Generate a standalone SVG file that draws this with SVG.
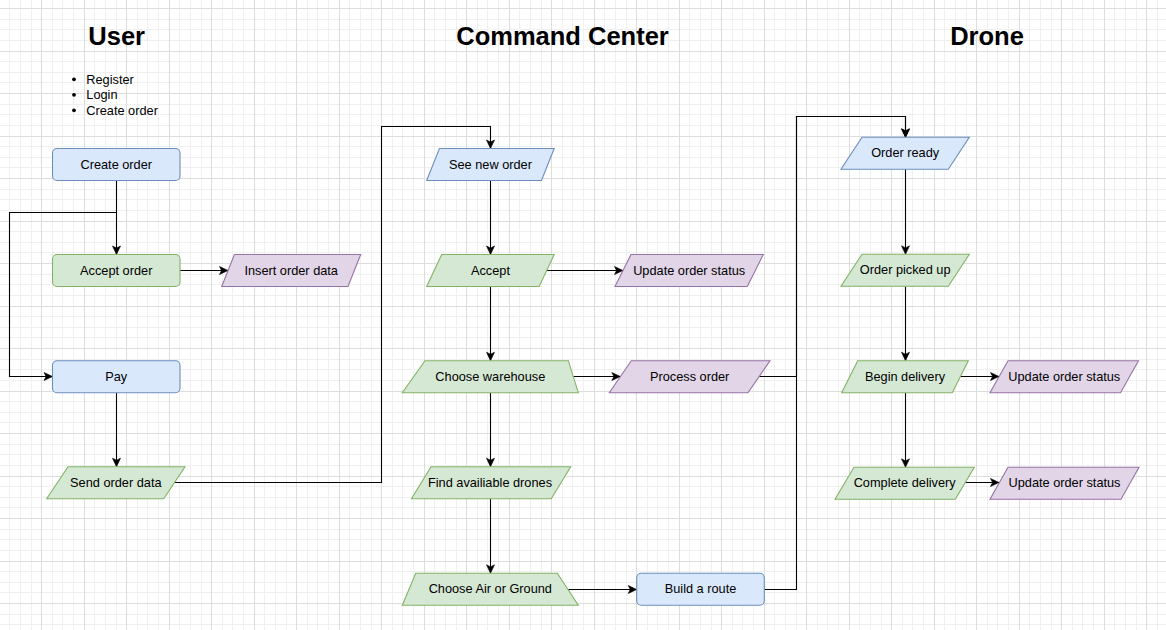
<svg xmlns="http://www.w3.org/2000/svg" width="1166" height="630" viewBox="0 0 1166 630">
<style>
.blue{fill:#dae8fc;stroke:#6c8ebf;stroke-width:1.1}
.green{fill:#d5e8d4;stroke:#82b366;stroke-width:1.1}
.purple{fill:#e1d5e7;stroke:#9673a6;stroke-width:1.1}
.lbl{font-family:"Liberation Sans",Arial,sans-serif;font-size:12.75px;fill:#000;text-anchor:middle}
.title{font-family:"Liberation Sans",Arial,sans-serif;font-size:25.5px;font-weight:bold;fill:#000;text-anchor:middle}
.bul{font-family:"Liberation Sans",Arial,sans-serif;font-size:12.75px;fill:#000}
.edge{fill:none;stroke:#000;stroke-width:1.1;marker-end:url(#arr)}
</style>
<defs>
<pattern id="grid" patternUnits="userSpaceOnUse" x="41" y="8" width="85" height="85">
<path d="M11.5,0V85M21.5,0V85M32.5,0V85M53.5,0V85M64.5,0V85M75.5,0V85M0,11.5H85M0,21.5H85M0,32.5H85M0,53.5H85M0,64.5H85M0,74.5H85" stroke="#f0f0f0" stroke-width="1" fill="none"/>
<path d="M0.5,0V85M43.5,0V85M0,0.5H85M0,43.5H85" stroke="#dddddd" stroke-width="1" fill="none"/>
</pattern>
<marker id="arr" markerUnits="userSpaceOnUse" markerWidth="12" markerHeight="12" refX="8.5" refY="4" orient="auto" style="overflow:visible">
<path d="M0,0L8.5,4L0,8L2.1,4Z" fill="#000" stroke="#000" stroke-width="0.6"/>
</marker>
</defs>
<rect x="0" y="0" width="1166" height="630" fill="#fff"/>
<rect x="0" y="0" width="1166" height="630" fill="url(#grid)"/>

<g id="titles">
<text class="title" x="116.7" y="44.5">User</text>
<text class="title" x="562.5" y="44.5">Command Center</text>
<text class="title" x="987" y="44.5">Drone</text>
</g>

<g id="user-list">
<circle cx="74" cy="79.3" r="1.9" fill="#000"/>
<circle cx="74" cy="94.8" r="1.9" fill="#000"/>
<circle cx="74" cy="110.3" r="1.9" fill="#000"/>
<text class="bul" x="86.3" y="83.5">Register</text>
<text class="bul" x="86.3" y="99">Login</text>
<text class="bul" x="86.3" y="114.5">Create order</text>
</g>

<g id="connectors">
<path class="edge" d="M116.5,180.5V254.5"/>
<path class="edge" d="M116.5,212.5H9.5V376.5H52.5"/>
<path class="edge" d="M180,270.5H228"/>
<path class="edge" d="M116.5,392.75V466.7"/>
<path class="edge" d="M174.4,482.5H381.5V126.5H490.5V148.5"/>
<path class="edge" d="M490.5,180.5V254.5"/>
<path class="edge" d="M546.7,270.5H623"/>
<path class="edge" d="M490.5,286.5V360.7"/>
<path class="edge" d="M573.3,376.5H620.3"/>
<path class="edge" d="M490.5,392.7V466.7"/>
<path class="edge" d="M490.5,498.7V573.3"/>
<path class="edge" d="M567.8,589.5H636.7"/>
<path class="edge" d="M764.3,589.5H796.5V116.5H905.5V137.3"/>
<path class="edge" d="M759,376.5H796.5V116.5H905.5V137.3"/>
<path class="edge" d="M905.5,169.3V254.3"/>
<path class="edge" d="M905.5,286.3V360.7"/>
<path class="edge" d="M960.3,376.5H999"/>
<path class="edge" d="M905.5,392.7V467.3"/>
<path class="edge" d="M964.8,482.5H999"/>
</g>

<g id="create-order"><rect class="blue" x="52.5" y="148.5" width="127.5" height="32" rx="4.5"/><text class="lbl" x="116.25" y="168.5">Create order</text></g>
<g id="accept-order"><rect class="green" x="52.5" y="254.5" width="127.5" height="32" rx="4.5"/><text class="lbl" x="116.25" y="274.5">Accept order</text></g>
<g id="insert-order-data"><polygon class="purple" points="234.4,254.5 360.7,254.5 348,286.5 221.7,286.5"/><text class="lbl" x="291.2" y="274.5">Insert order data</text></g>
<g id="pay"><rect class="blue" x="52.5" y="360.75" width="127.5" height="32" rx="4.5"/><text class="lbl" x="116.25" y="380.75">Pay</text></g>
<g id="send-order-data"><polygon class="green" points="68,466.7 185,466.7 163.7,498.7 46.7,498.7"/><text class="lbl" x="115.85" y="486.7">Send order data</text></g>

<g id="see-new-order"><polygon class="blue" points="439.45,148.5 554.2,148.5 541.45,180.5 426.7,180.5"/><text class="lbl" x="490.45" y="168.5">See new order</text></g>
<g id="accept"><polygon class="green" points="441.7,254.5 554.2,254.5 539.2,286.5 426.7,286.5"/><text class="lbl" x="490.45" y="274.5">Accept</text></g>
<g id="update-status-cc"><polygon class="purple" points="631,254.5 763.3,254.5 747.3,286.5 615,286.5"/><text class="lbl" x="689.15" y="274.5">Update order status</text></g>
<g id="choose-warehouse"><polygon class="green" points="425,360.7 568.3,360.7 578.3,392.7 402.3,392.7"/><text class="lbl" x="490.3" y="380.7">Choose warehouse</text></g>
<g id="process-order"><polygon class="purple" points="631.3,360.7 770,360.7 748,392.7 609.3,392.7"/><text class="lbl" x="689.65" y="380.7">Process order</text></g>
<g id="find-drones"><polygon class="green" points="431,466.7 570.7,466.7 551.2,498.7 411.5,498.7"/><text class="lbl" x="490" y="486.7">Find availiable drones</text></g>
<g id="choose-air-ground"><polygon class="green" points="415.7,573.3 557.3,573.3 578.3,605.3 402.3,605.3"/><text class="lbl" x="490.3" y="593.3">Choose Air or Ground</text></g>
<g id="build-route"><rect class="blue" x="636.7" y="573.3" width="127.6" height="32" rx="4.5"/><text class="lbl" x="700.5" y="593.3">Build a route</text></g>

<g id="order-ready"><polygon class="blue" points="862,137.3 969.3,137.3 948.3,169.3 841,169.3"/><text class="lbl" x="905.15" y="157.3">Order ready</text></g>
<g id="order-picked-up"><polygon class="green" points="862,254.3 969.3,254.3 948.3,286.3 841,286.3"/><text class="lbl" x="905.15" y="274.3">Order picked up</text></g>
<g id="begin-delivery"><polygon class="green" points="857.7,360.7 968.3,360.7 952.3,392.7 841.7,392.7"/><text class="lbl" x="905" y="380.7">Begin delivery</text></g>
<g id="update-status-d1"><polygon class="purple" points="1008,360.7 1138.5,360.7 1120.5,392.7 990,392.7"/><text class="lbl" x="1064.25" y="380.7">Update order status</text></g>
<g id="complete-delivery"><polygon class="green" points="854,467.3 974.3,467.3 955.3,499.3 835,499.3"/><text class="lbl" x="904.65" y="487.3">Complete delivery</text></g>
<g id="update-status-d2"><polygon class="purple" points="1008,467.3 1139,467.3 1121,499.3 990,499.3"/><text class="lbl" x="1064.5" y="487.3">Update order status</text></g>
</svg>
